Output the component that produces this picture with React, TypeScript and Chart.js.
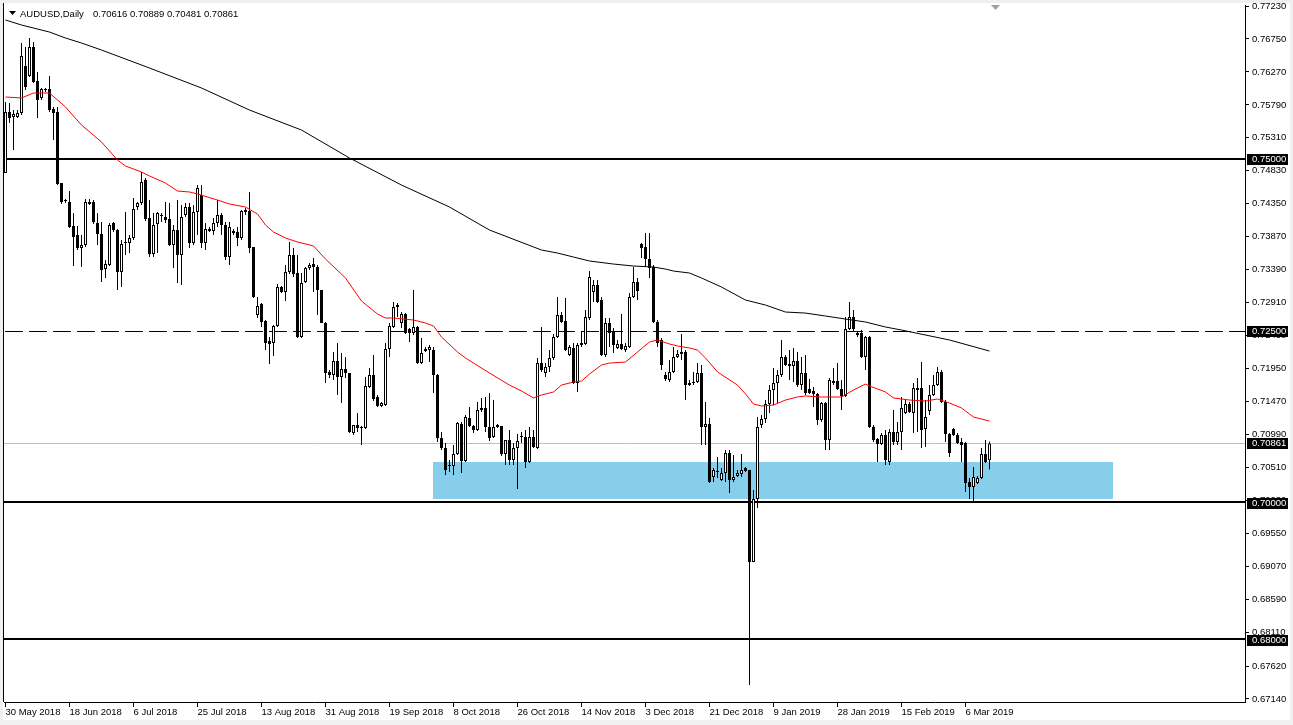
import React, { useEffect, useRef } from "react";
import { Chart, registerables } from "chart.js";

Chart.register(...registerables);

const W = 1293;
const H = 725;
const FONT = "'Liberation Sans', Arial, sans-serif";

// ---- OHLC data (daily bars, one per trading day incl. Sunday bars) ----
const opens = [
  0.74798, 0.75686, 0.75613, 0.75613, 0.75671, 0.76356, 0.76211, 0.76633, 0.76137, 0.75891,
  0.76007, 0.76021, 0.75730, 0.75686, 0.74652, 0.74405, 0.74376, 0.74027, 0.73895, 0.73707,
  0.73750, 0.74347, 0.74376, 0.74070, 0.73910, 0.73400, 0.73458, 0.74070, 0.73968, 0.73357,
  0.73779, 0.73779, 0.73852, 0.74303, 0.74361, 0.74696, 0.74143, 0.73619, 0.74056, 0.74172,
  0.74157, 0.74128, 0.73750, 0.73968, 0.73604, 0.74186, 0.74303, 0.73779, 0.74230, 0.74478,
  0.73779, 0.73983, 0.73953, 0.74070, 0.74186, 0.74041, 0.73575, 0.73953, 0.73939, 0.73852,
  0.74230, 0.74244, 0.73721, 0.72730, 0.72891, 0.72643, 0.72352, 0.72323, 0.72571, 0.73138,
  0.73066, 0.73357, 0.73604, 0.73342, 0.72410, 0.73211, 0.73415, 0.73473, 0.73429, 0.73095,
  0.72614, 0.71901, 0.71857, 0.72060, 0.71828, 0.71944, 0.71886, 0.71012, 0.71129, 0.71086,
  0.71086, 0.71682, 0.71857, 0.71537, 0.71406, 0.71420, 0.72236, 0.72556, 0.72847, 0.72614,
  0.72745, 0.72527, 0.72468, 0.72556, 0.72031, 0.72236, 0.72221, 0.72221, 0.71857, 0.70940,
  0.70795, 0.70546, 0.70532, 0.70707, 0.71144, 0.70604, 0.71231, 0.71115, 0.71056, 0.71347,
  0.71377, 0.71100, 0.70954, 0.71129, 0.71115, 0.70707, 0.70911, 0.70619, 0.70795, 0.70954,
  0.70954, 0.70590, 0.70954, 0.70795, 0.72031, 0.71886, 0.71973, 0.72105, 0.72410, 0.72730,
  0.72643, 0.72148, 0.72251, 0.71740, 0.72294, 0.72309, 0.72687, 0.73066, 0.73167, 0.72949,
  0.72148, 0.72614, 0.72483, 0.72251, 0.72309, 0.72221, 0.72265, 0.72993, 0.73211, 0.73765,
  0.73721, 0.73546, 0.73429, 0.72629, 0.72367, 0.71857, 0.71784, 0.71901, 0.72119, 0.72163,
  0.72192, 0.71711, 0.71740, 0.71755, 0.71886, 0.71100, 0.71144, 0.70372, 0.70445, 0.70328,
  0.70430, 0.70721, 0.70328, 0.70387, 0.70416, 0.70503, 0.70474, 0.69134, 0.70052, 0.71129,
  0.71216, 0.71435, 0.71639, 0.71740, 0.71857, 0.72119, 0.72017, 0.71988, 0.72060, 0.71711,
  0.71886, 0.71653, 0.71624, 0.71581, 0.71202, 0.71449, 0.70911, 0.71740, 0.71769, 0.71653,
  0.71552, 0.72527, 0.72701, 0.72439, 0.72468, 0.72119, 0.72410, 0.71100, 0.70925, 0.70853,
  0.70983, 0.70590, 0.71027, 0.70882, 0.71027, 0.71303, 0.71435, 0.71303, 0.71639, 0.71668,
  0.71071, 0.71332, 0.71566, 0.71711, 0.71901, 0.71464, 0.70998, 0.71071, 0.70983, 0.70882,
  0.70867, 0.70299, 0.70226, 0.70284, 0.70358, 0.70707, 0.70616,
];
const highs = [
  0.75832, 0.75817, 0.75715, 0.75715, 0.76691, 0.76633, 0.76764, 0.76706, 0.76269, 0.76036,
  0.76036, 0.76211, 0.75759, 0.75759, 0.74652, 0.74420, 0.74536, 0.74215, 0.74027, 0.73895,
  0.74420, 0.74420, 0.74405, 0.74215, 0.74085, 0.73531, 0.74070, 0.74085, 0.73983, 0.73823,
  0.74230, 0.73895, 0.74435, 0.74376, 0.74813, 0.74726, 0.74405, 0.74215, 0.74230, 0.74215,
  0.74376, 0.74361, 0.74041, 0.74405, 0.74332, 0.74361, 0.74361, 0.74332, 0.74623, 0.74623,
  0.74070, 0.74012, 0.74143, 0.74405, 0.74215, 0.74085, 0.74085, 0.73983, 0.74012, 0.74259,
  0.74289, 0.74522, 0.73721, 0.72993, 0.72905, 0.72658, 0.72410, 0.72585, 0.73182, 0.73153,
  0.73458, 0.73794, 0.73707, 0.73604, 0.73342, 0.73429, 0.73487, 0.73561, 0.73458, 0.73095,
  0.72629, 0.71930, 0.72192, 0.72323, 0.72177, 0.72119, 0.71886, 0.71129, 0.71303, 0.71115,
  0.71828, 0.71959, 0.72148, 0.71566, 0.71464, 0.72323, 0.72614, 0.72920, 0.72905, 0.72774,
  0.72759, 0.72542, 0.73095, 0.72571, 0.72396, 0.72265, 0.72294, 0.72265, 0.71872, 0.71027,
  0.70867, 0.70619, 0.70838, 0.71173, 0.71173, 0.71274, 0.71391, 0.71129, 0.71464, 0.71523,
  0.71537, 0.71595, 0.71493, 0.71144, 0.71115, 0.70911, 0.71056, 0.70867, 0.70998, 0.71027,
  0.71056, 0.71100, 0.71056, 0.72105, 0.72556, 0.72031, 0.72221, 0.72454, 0.72993, 0.72774,
  0.72979, 0.72294, 0.72323, 0.72323, 0.72483, 0.72803, 0.73371, 0.73240, 0.73240, 0.72993,
  0.72687, 0.72687, 0.72542, 0.72367, 0.72745, 0.72323, 0.73051, 0.73429, 0.73270, 0.73779,
  0.73924, 0.73924, 0.73458, 0.72658, 0.72396, 0.71901, 0.72075, 0.72265, 0.72221, 0.72454,
  0.72221, 0.71784, 0.71901, 0.72031, 0.72002, 0.71464, 0.71231, 0.70503, 0.70663, 0.70503,
  0.70765, 0.70765, 0.70692, 0.70474, 0.70707, 0.70517, 0.70474, 0.70183, 0.71245, 0.71274,
  0.71493, 0.71711, 0.71959, 0.71930, 0.72367, 0.72148, 0.72221, 0.72251, 0.72192, 0.72119,
  0.72148, 0.71799, 0.71682, 0.71595, 0.71464, 0.71464, 0.71814, 0.71959, 0.72031, 0.71784,
  0.72701, 0.72920, 0.72803, 0.72483, 0.72512, 0.72425, 0.72425, 0.71129, 0.70940, 0.71012,
  0.71056, 0.71071, 0.71347, 0.71173, 0.71537, 0.71493, 0.71464, 0.71740, 0.71814, 0.72046,
  0.71493, 0.71711, 0.71857, 0.71973, 0.71930, 0.71493, 0.71012, 0.71086, 0.71012, 0.70940,
  0.70882, 0.70358, 0.70517, 0.70387, 0.70795, 0.70911, 0.70889,
];
const lows = [
  0.74798, 0.75526, 0.75133, 0.75599, 0.75642, 0.76007, 0.76196, 0.76108, 0.75599, 0.75861,
  0.75978, 0.75686, 0.75279, 0.74623, 0.74347, 0.74361, 0.73998, 0.73444, 0.73677, 0.73429,
  0.73721, 0.74332, 0.74056, 0.73750, 0.73211, 0.73270, 0.73444, 0.73939, 0.73095, 0.73138,
  0.73604, 0.73633, 0.73823, 0.74259, 0.74332, 0.74099, 0.73575, 0.73575, 0.73633, 0.74085,
  0.74070, 0.73736, 0.73415, 0.73196, 0.73167, 0.74157, 0.73707, 0.73750, 0.73895, 0.73707,
  0.73677, 0.73939, 0.73895, 0.74012, 0.73895, 0.73531, 0.73458, 0.73895, 0.73736, 0.73823,
  0.74186, 0.73633, 0.72979, 0.72687, 0.72556, 0.72221, 0.72017, 0.72134, 0.72556, 0.73051,
  0.72934, 0.73328, 0.73284, 0.72396, 0.72396, 0.73196, 0.73386, 0.73066, 0.72730, 0.72614,
  0.71740, 0.71814, 0.71784, 0.71566, 0.71449, 0.71814, 0.71012, 0.70983, 0.71027, 0.70838,
  0.71071, 0.71668, 0.71478, 0.71391, 0.71391, 0.71406, 0.72119, 0.72542, 0.72701, 0.72542,
  0.72454, 0.72338, 0.72439, 0.72017, 0.72017, 0.72192, 0.72046, 0.71595, 0.70882, 0.70765,
  0.70401, 0.70445, 0.70401, 0.70692, 0.70430, 0.70590, 0.71100, 0.71012, 0.71041, 0.71318,
  0.71027, 0.70896, 0.70940, 0.71086, 0.70678, 0.70546, 0.70546, 0.70546, 0.70197, 0.70867,
  0.70503, 0.70575, 0.70795, 0.70780, 0.71901, 0.71828, 0.71901, 0.72075, 0.72396, 0.72614,
  0.72206, 0.72134, 0.71726, 0.71610, 0.72265, 0.72294, 0.72658, 0.72920, 0.72905, 0.72134,
  0.72119, 0.72265, 0.72177, 0.72236, 0.72221, 0.72192, 0.72251, 0.72979, 0.72949, 0.73561,
  0.73429, 0.73270, 0.72614, 0.72265, 0.71930, 0.71769, 0.71755, 0.71886, 0.72105, 0.72075,
  0.71493, 0.71697, 0.71711, 0.71740, 0.70838, 0.70838, 0.70284, 0.70299, 0.70358, 0.70313,
  0.70299, 0.70139, 0.70299, 0.70372, 0.70372, 0.70445, 0.67343, 0.69134, 0.69921, 0.71086,
  0.71158, 0.71303, 0.71420, 0.71449, 0.71828, 0.71988, 0.71784, 0.71755, 0.71682, 0.71639,
  0.71566, 0.71581, 0.71391, 0.71129, 0.71173, 0.70765, 0.70765, 0.71711, 0.71639, 0.71347,
  0.71537, 0.72512, 0.72483, 0.72410, 0.72105, 0.71930, 0.71086, 0.70882, 0.70590, 0.70838,
  0.70546, 0.70546, 0.70838, 0.70838, 0.70765, 0.71289, 0.71303, 0.71012, 0.71027, 0.70795,
  0.70809, 0.71274, 0.71552, 0.71697, 0.71449, 0.70882, 0.70663, 0.70969, 0.70853, 0.70590,
  0.70154, 0.70052, 0.70008, 0.70270, 0.70343, 0.70575, 0.70481,
];
const closes = [
  0.75686, 0.75599, 0.75657, 0.75671, 0.76502, 0.76050, 0.76633, 0.76123, 0.75861, 0.76021,
  0.76007, 0.75715, 0.75671, 0.74638, 0.74376, 0.74390, 0.74012, 0.73866, 0.73707, 0.73750,
  0.74376, 0.74376, 0.74085, 0.73910, 0.73386, 0.73473, 0.74041, 0.73968, 0.73357, 0.73765,
  0.73779, 0.73852, 0.74274, 0.74361, 0.74667, 0.74128, 0.73619, 0.74041, 0.74215, 0.74172,
  0.74114, 0.73750, 0.73968, 0.73604, 0.74157, 0.74303, 0.73779, 0.74230, 0.74580, 0.73779,
  0.73983, 0.73953, 0.74070, 0.74186, 0.74041, 0.73575, 0.74012, 0.73924, 0.73852, 0.74244,
  0.74259, 0.73707, 0.72993, 0.72862, 0.72629, 0.72323, 0.72309, 0.72571, 0.73138, 0.73066,
  0.73357, 0.73604, 0.73328, 0.72410, 0.73196, 0.73415, 0.73458, 0.73429, 0.73095, 0.72614,
  0.71886, 0.71857, 0.72060, 0.71828, 0.71944, 0.71886, 0.71027, 0.71129, 0.71086, 0.71086,
  0.71697, 0.71857, 0.71508, 0.71406, 0.71449, 0.72236, 0.72571, 0.72847, 0.72876, 0.72745,
  0.72468, 0.72468, 0.72556, 0.72031, 0.72177, 0.72206, 0.72265, 0.71857, 0.70940, 0.70795,
  0.70474, 0.70532, 0.70707, 0.71158, 0.70604, 0.71245, 0.71115, 0.71056, 0.71347, 0.71377,
  0.71100, 0.70940, 0.71100, 0.71100, 0.70707, 0.70911, 0.70619, 0.70795, 0.70896, 0.70954,
  0.70590, 0.70954, 0.70809, 0.72031, 0.71930, 0.71973, 0.72105, 0.72410, 0.72730, 0.72629,
  0.72221, 0.72265, 0.71740, 0.72294, 0.72323, 0.72701, 0.73284, 0.73167, 0.72920, 0.72148,
  0.72614, 0.72468, 0.72294, 0.72309, 0.72236, 0.72280, 0.72993, 0.73211, 0.73080, 0.73707,
  0.73546, 0.73415, 0.72629, 0.72323, 0.72002, 0.71799, 0.71901, 0.72119, 0.72163, 0.72192,
  0.71711, 0.71740, 0.71755, 0.71886, 0.71100, 0.71144, 0.70299, 0.70474, 0.70459, 0.70430,
  0.70721, 0.70328, 0.70372, 0.70430, 0.70474, 0.70459, 0.69134, 0.70052, 0.71100, 0.71216,
  0.71435, 0.71639, 0.71740, 0.71857, 0.72119, 0.72002, 0.71988, 0.72060, 0.71711, 0.71886,
  0.71595, 0.71595, 0.71581, 0.71202, 0.71449, 0.70911, 0.71784, 0.71769, 0.71653, 0.71552,
  0.72527, 0.72701, 0.72527, 0.72468, 0.72119, 0.72410, 0.71100, 0.70911, 0.70853, 0.70983,
  0.70619, 0.71027, 0.70882, 0.71027, 0.71377, 0.71435, 0.71318, 0.71668, 0.71668, 0.71056,
  0.71245, 0.71566, 0.71711, 0.71901, 0.71464, 0.70998, 0.70721, 0.70983, 0.70867, 0.70838,
  0.70284, 0.70226, 0.70372, 0.70358, 0.70707, 0.70590, 0.70861,
];

// ---- moving averages: [bar index, value] ----
const ma50Points: [number, number][] = [
  [0, 0.75905], [4, 0.75891], [7, 0.75963], [11, 0.75963], [15, 0.75759], [19, 0.75497],
  [24, 0.7525], [28, 0.74987], [30, 0.749], [34, 0.74813], [36, 0.74755], [40, 0.74652],
  [43, 0.74536], [46, 0.74522], [48, 0.74493], [53, 0.74405], [56, 0.74347], [60, 0.74303],
  [63, 0.74201], [65, 0.74041], [67, 0.73939], [70, 0.73852], [73, 0.73794], [77, 0.73736],
  [80, 0.73546], [85, 0.7327], [89, 0.72934], [93, 0.72745], [95, 0.72687], [97, 0.72687],
  [102, 0.72658], [105, 0.72614], [107, 0.72571], [109, 0.7241], [113, 0.72192], [115, 0.72105],
  [117, 0.72031], [121, 0.71886], [126, 0.71711], [129, 0.71624], [132, 0.71523], [134, 0.71566],
  [137, 0.7161], [139, 0.71711], [142, 0.71755], [144, 0.71769], [146, 0.71872], [149, 0.72002],
  [151, 0.72031], [155, 0.72046], [158, 0.72192], [161, 0.72338], [163, 0.72367], [166, 0.72309],
  [168, 0.7228], [171, 0.72251], [173, 0.72221], [175, 0.72105], [178, 0.71901], [183, 0.71711],
  [185, 0.71581], [187, 0.71435], [189, 0.71406], [192, 0.7142], [195, 0.71493], [198, 0.71537],
  [200, 0.71552], [204, 0.71537], [209, 0.71537], [212, 0.71639], [215, 0.71726], [216, 0.71697],
  [220, 0.7161], [222, 0.71523], [226, 0.71493], [230, 0.71478], [233, 0.71508], [236, 0.71449],
  [239, 0.71377], [242, 0.71245], [246, 0.71187],
];
const ma200Points: [number, number][] = [
  [0, 0.77026], [4, 0.76953], [11, 0.76851], [15, 0.76764], [19, 0.76691], [24, 0.76589],
  [36, 0.76327], [49, 0.76036], [61, 0.75715], [74, 0.75424], [86, 0.75017], [99, 0.74623],
  [111, 0.74303], [121, 0.73968], [134, 0.73677], [138, 0.73633], [142, 0.73575], [146, 0.73517],
  [152, 0.73473], [157, 0.73444], [162, 0.73429], [165, 0.734], [167, 0.73371], [171, 0.73342],
  [174, 0.7327], [179, 0.73138], [185, 0.72949], [190, 0.72876], [195, 0.72774], [200, 0.72759],
  [205, 0.72716], [210, 0.72672], [215, 0.72629], [220, 0.72556], [224, 0.72512], [236, 0.72367],
  [246, 0.72206],
];

// ---- axes ----
const dateTickBars = [0, 16, 32, 48, 64, 80, 96, 112, 128, 144, 160, 176, 192, 208, 224, 240];
const dateTickLabels = [
  "30 May 2018", "18 Jun 2018", "6 Jul 2018", "25 Jul 2018", "13 Aug 2018", "31 Aug 2018",
  "19 Sep 2018", "8 Oct 2018", "26 Oct 2018", "14 Nov 2018", "3 Dec 2018", "21 Dec 2018",
  "9 Jan 2019", "28 Jan 2019", "15 Feb 2019", "6 Mar 2019",
];
const priceTickLabels = [
  "0.77230", "0.76750", "0.76270", "0.75790", "0.75310", "0.74830", "0.74350", "0.73870",
  "0.73390", "0.72910", "0.72430", "0.71950", "0.71470", "0.70990", "0.70510", "0.70030",
  "0.69550", "0.69070", "0.68590", "0.68110", "0.67620", "0.67140",
];

// ---- drawn objects ----
const levelValues = [0.75, 0.725, 0.7, 0.68];
const levelLabels = ["0.75000", "0.72500", "0.70000", "0.68000"];
const levelDashed = [false, true, false, false];
const bidPrice = 0.70861;
const bidLabel = "0.70861";
const zoneBars = [106.8, 276.9];
const zonePrices = [0.70595, 0.70047];
const headerSymbol = "AUDUSD,Daily";
const headerQuote = ["0.70616", "0.70889", "0.70481", "0.70861"];

const Y_MIN = 0.670961;
const Y_MAX = 0.772446;
const X_MIN = -0.375;
const X_MAX = 309.875;

const decor = {
  id: "mt4decor",
  beforeDraw(chart: any) {
    const ctx = chart.ctx;
    ctx.save();
    ctx.fillStyle = "#f0f0f0";
    ctx.fillRect(0, 0, W, H);
    ctx.fillStyle = "#ffffff";
    ctx.fillRect(3, 3, W - 6, 717);
    ctx.restore();
  },
  beforeDatasetsDraw(chart: any) {
    const { ctx, chartArea: a, scales } = chart;
    const xs = scales.x;
    const ys = scales.y;
    ctx.save();
    // support zone
    const x1 = Math.round(xs.getPixelForValue(zoneBars[0]));
    const x2 = Math.round(xs.getPixelForValue(zoneBars[1]));
    const y1 = Math.round(ys.getPixelForValue(zonePrices[0]));
    const y2 = Math.round(ys.getPixelForValue(zonePrices[1]));
    ctx.fillStyle = "#87CEEB";
    ctx.fillRect(x1, y1, x2 - x1, y2 - y1);
    // bid line
    ctx.strokeStyle = "#c0c0c0";
    ctx.lineWidth = 1;
    const yb = Math.round(ys.getPixelForValue(bidPrice)) + 0.5;
    ctx.beginPath();
    ctx.moveTo(a.left, yb);
    ctx.lineTo(a.right, yb);
    ctx.stroke();
    // horizontal levels
    ctx.strokeStyle = "#000";
    levelValues.forEach((v, k) => {
      const y = ys.getPixelForValue(v);
      let yy: number;
      if (levelDashed[k]) {
        ctx.setLineDash([18, 6]);
        ctx.lineDashOffset = 23;
        ctx.lineWidth = 1;
        yy = Math.round(y) + 0.5;
      } else {
        ctx.setLineDash([]);
        ctx.lineWidth = 2;
        yy = Math.floor(y);
      }
      ctx.beginPath();
      ctx.moveTo(a.left, yy);
      ctx.lineTo(a.right, yy);
      ctx.stroke();
    });
    ctx.restore();
  },
  afterDraw(chart: any) {
    const { ctx, chartArea: a, scales } = chart;
    const ys = scales.y;
    ctx.save();
    // left frame line
    ctx.fillStyle = "#000";
    ctx.fillRect(3, 3, 1, a.bottom - 3);
    // price boxes on the axis
    ctx.font = `9.5px ${FONT}`;
    ctx.textBaseline = "middle";
    ctx.textAlign = "left";
    const boxes = levelValues.map((v, k) => [v, levelLabels[k]] as [number, string]);
    boxes.push([bidPrice, bidLabel]);
    boxes.forEach(([v, label]) => {
      const y = Math.round(ys.getPixelForValue(v));
      ctx.fillStyle = "#000";
      ctx.fillRect(a.right + 2, y - 5, 41, 11);
      ctx.fillStyle = "#fff";
      ctx.fillText(label, a.right + 7, y + 0.5);
    });
    // header
    ctx.fillStyle = "#000";
    ctx.beginPath();
    ctx.moveTo(9, 11);
    ctx.lineTo(16, 11);
    ctx.lineTo(12.5, 15);
    ctx.closePath();
    ctx.fill();
    ctx.textBaseline = "alphabetic";
    ctx.fillText(headerSymbol, 20, 16.5);
    ctx.fillText(headerQuote.join(" "), 93, 16.5);
    // chart shift marker
    ctx.fillStyle = "#a0a0a0";
    ctx.beginPath();
    ctx.moveTo(991, 5);
    ctx.lineTo(1000, 5);
    ctx.lineTo(995.5, 10);
    ctx.closePath();
    ctx.fill();
    ctx.restore();
  },
};

export default function App() {
  const ref = useRef<HTMLCanvasElement | null>(null);
  useEffect(() => {
    if (!ref.current) return;
    const wickData = lows.map((l, i) => ({ x: i, y: [l, highs[i]] }));
    const bodyData = opens.map((o, i) => ({ x: i, y: [o, closes[i]] }));
    const bodyColors = opens.map((o, i) => (closes[i] >= o ? "#ffffff" : "#000000"));
    const chart = new Chart(ref.current, {
      type: "line",
      data: {
        datasets: [
          {
            type: "line",
            label: "MA50",
            data: ma50Points.map(([x, y]) => ({ x, y })),
            borderColor: "#ff0000",
            borderWidth: 1,
            pointRadius: 0,
            tension: 0,
            order: 0,
          } as any,
          {
            type: "line",
            label: "MA200",
            data: ma200Points.map(([x, y]) => ({ x, y })),
            borderColor: "#000000",
            borderWidth: 1,
            pointRadius: 0,
            tension: 0,
            order: 1,
          } as any,
          {
            type: "bar",
            label: "bodies",
            data: bodyData,
            backgroundColor: bodyColors,
            borderColor: "#000000",
            borderWidth: 1,
            borderSkipped: false,
            grouped: false,
            categoryPercentage: 1,
            barPercentage: 1,
            maxBarThickness: 3,
            minBarLength: 1,
            inflateAmount: 0,
            order: 2,
          } as any,
          {
            type: "bar",
            label: "wicks",
            data: wickData,
            backgroundColor: "#000000",
            borderWidth: 0,
            grouped: false,
            categoryPercentage: 1,
            barPercentage: 1,
            maxBarThickness: 1,
            minBarLength: 1,
            inflateAmount: 0,
            order: 3,
          } as any,
        ],
      },
      options: {
        responsive: false,
        animation: false,
        devicePixelRatio: 1,
        events: [],
        layout: { padding: { left: 4, top: 5, right: 0, bottom: 0 } },
        plugins: { legend: { display: false }, tooltip: { enabled: false } },
        scales: {
          x: {
            type: "linear",
            position: "bottom",
            min: X_MIN,
            max: X_MAX,
            bounds: "data",
            offset: false,
            afterBuildTicks: (s: any) => {
              s.ticks = dateTickBars.map((v) => ({ value: v }));
            },
            afterFit: (s: any) => {
              s.height = 23;
              s.paddingLeft = 0;
              s.paddingRight = 0;
            },
            grid: {
              display: true,
              drawOnChartArea: false,
              drawTicks: true,
              tickLength: 5,
              color: "#000",
              offset: false,
            },
            border: { display: true, color: "#000", width: 1 },
            ticks: {
              autoSkip: false,
              maxRotation: 0,
              minRotation: 0,
              align: "start",
              padding: 0,
              color: "#000",
              font: { family: FONT, size: 9.5 },
              callback: (_v: any, i: number) => dateTickLabels[i],
            },
          } as any,
          y: {
            type: "linear",
            position: "right",
            min: Y_MIN,
            max: Y_MAX,
            bounds: "data",
            afterBuildTicks: (s: any) => {
              s.ticks = priceTickLabels.map((l) => ({ value: parseFloat(l) }));
            },
            afterFit: (s: any) => {
              s.width = 48;
              s.paddingTop = 0;
              s.paddingBottom = 0;
            },
            grid: {
              display: true,
              drawOnChartArea: false,
              drawTicks: true,
              tickLength: 4,
              color: "#000",
            },
            border: { display: true, color: "#000", width: 1 },
            ticks: {
              autoSkip: false,
              padding: 3,
              color: "#000",
              font: { family: FONT, size: 9.5 },
              callback: (_v: any, i: number) => priceTickLabels[i],
            },
          } as any,
        },
      },
      plugins: [decor],
    } as any);
    return () => chart.destroy();
  }, []);

  return (
    <div style={{ position: "fixed", left: 0, top: 0, width: W, height: H, background: "#fff" }}>
      <canvas ref={ref} width={W} height={H} style={{ display: "block" }} />
    </div>
  );
}
